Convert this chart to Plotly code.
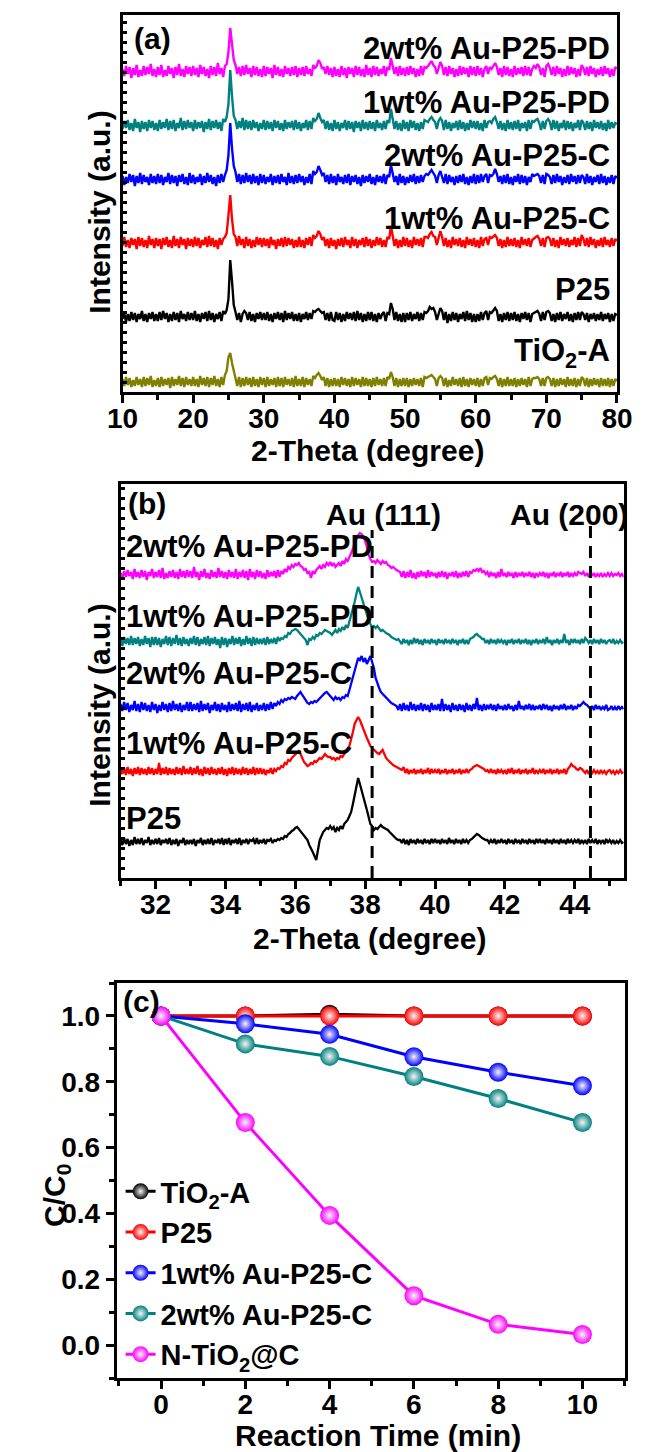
import plotly.graph_objects as go

W, H = 652, 1452
FONT = "Liberation Sans, Arial, sans-serif"

# ---------------- Panel (a) data: 2-Theta 10..80 step 0.25 (intensity, a.u.) ----------------
A_START, A_STEP = 10.0, 0.25
A_PD2 = [3,-4,6,-2,5,-6,4,-3,7,-5, 2,-4,6,-3,5,-2,8,-4,3,-5,
         5,-3,7,-5,2,-4,6,-2,4,-6, 5,-3,8,-4,3,-5,6,-2,5,-4,
         6,-3,4,-5,7,-2,5,-4,3,-6, 6,-3,5,-4,9,-2,4,-5,6,8,
         20,44,28,12,7,-2,5,-4,6,-3, 7,-2,4,-5,6,-3,5,-4,3,-5,
         6,-4,5,-2,4,-6,7,-3,5,-4, 3,-5,6,-2,4,-4,5,-3,6,-5,
         4,-3,5,-4,6,-2,3,-4,7,4, 6,12,9,3,5,-2,6,-3,4,-5,
         5,-4,3,-5,6,-3,4,-6,5,-2, 4,-5,6,-3,5,-4,3,-5,7,-3,
         4,-5,6,-3,5,-4,3,-2,6,-4, 5,2,14,6,-2,5,-4,6,-3,4,
         -4,5,-3,6,-2,4,-5,3,-4,6, -3,5,4,6,8,11,7,5,-2,4,
         10,6,-3,5,-4,6,-2,4,-5,3, -4,6,-3,5,-2,4,-5,6,-3,5,
         -4,6,-3,4,-5,3,6,-2,5,3, 6,9,5,-3,4,-5,6,-3,5,-4,
         3,-5,6,-3,4,-2,5,-4,6,-3, 5,-4,3,6,4,8,5,-3,4,-5,
         6,8,4,-3,5,-4,6,-2,4,-5, 3,-4,6,-3,5,-2,4,-5,3,-4,
         7,4,-3,5,-4,6,-2,4,-5,3, -3,5,-4,6,-2,4,-5,3,-4,5,
         3]
A_PD1 = [-3,5,-2,6,-4,3,-5,7,-2,4, -6,5,-3,4,-5,6,-2,5,-4,3,
         -5,6,-3,4,-2,7,-4,5,-3,6, -5,3,-2,8,-4,5,-3,6,-2,4,
         -5,6,-3,4,-2,5,-6,4,-3,7, -4,5,-2,6,-3,4,-5,7,4,9,
         22,56,30,10,6,-3,5,-2,8,-4, 6,-3,5,-4,6,-2,4,-5,3,-3,
         6,-4,5,-3,4,-5,6,-2,5,-4, 3,-5,6,-3,4,-2,5,-4,6,-3,
         4,-5,3,-2,6,-4,5,-3,8,5, 7,13,8,4,6,-3,5,-4,3,-5,
         6,-3,4,-5,3,-2,6,-4,5,-3, 4,-6,5,-2,4,-5,6,-3,4,-4,
         5,-3,4,-5,6,-2,3,-4,5,-3, 6,3,17,7,-3,5,-4,3,-5,6,
         -3,4,-5,6,-2,5,-4,3,-5,4, -3,6,5,4,7,9,6,4,-3,5,
         8,5,-4,6,-3,4,-5,3,-2,5, -4,6,-3,4,-5,3,-4,6,-2,5,
         -3,5,-4,3,-5,6,-2,4,5,3, 7,9,4,-3,5,-4,3,-5,6,-3,
         4,-4,5,-3,6,-5,3,-2,4,-5, 6,-3,5,4,6,7,3,-4,5,-3,
         5,7,4,-4,6,-3,5,-5,3,-2, 6,-4,5,-3,4,-5,3,-2,6,-4,
         6,3,-4,5,-3,4,-5,6,-2,4, -3,5,-4,3,-5,6,-3,4,-2,3,
         2]
A_C2 = [4,-5,3,-3,6,-2,5,-6,4,-3, 7,-4,5,-2,3,-5,6,-3,4,-4,
        6,-3,5,-5,3,-2,7,-4,5,-3, 4,-6,5,-2,6,-4,3,-5,7,-3,
        5,-4,3,-2,6,-5,4,-3,7,-2, 5,-4,3,-6,5,-3,6,-2,5,10,
        25,57,32,14,8,-2,6,-4,5,-3, 7,-2,5,-4,6,-3,4,-5,6,-3,
        5,-4,3,-2,6,-5,4,-3,5,-4, 6,-2,3,-5,7,-3,4,-4,5,-3,
        6,-2,4,-5,3,-3,6,-4,9,6, 8,14,10,5,7,-2,5,-4,6,-3,
        4,-5,6,-2,3,-4,5,-3,6,-5, 4,-2,5,-4,3,-6,5,-3,4,-2,
        6,-4,3,-5,5,-2,4,-3,6,-4, 5,3,15,7,-2,4,-5,6,-3,4,
        -5,3,-3,5,-2,6,-4,4,-3,5, -2,4,6,5,8,10,7,4,-3,5,
        9,4,-3,6,-4,5,-2,3,-5,4, -3,5,-2,6,-4,3,-5,4,-3,6,
        -4,5,-3,6,-2,4,6,-3,5,4, 6,11,6,-2,4,-4,5,-3,6,-4,
        3,-5,4,-2,6,-4,5,-3,4,-5, 3,-2,6,4,5,6,4,-3,5,-4,
        6,5,3,-4,5,-3,6,-2,4,-5, 3,-3,5,-4,6,-2,4,-4,5,-3,
        5,3,-4,6,-3,4,-5,3,-2,5, -4,6,-3,4,-5,3,-3,5,-4,4,
        2]
A_C1 = [-3,6,-4,3,-5,5,-2,4,-6,6, -3,5,-4,3,-5,7,-2,4,-5,5,
        -3,4,-6,5,-2,6,-4,3,-5,7, -3,4,-5,6,-2,4,-6,5,-3,4,
        -4,6,-3,5,-5,3,-2,6,-4,7, -3,5,-4,3,-6,5,-2,4,6,10,
        28,48,24,9,6,-3,7,-2,4,-5, 6,-3,4,-5,3,-4,6,-2,5,-4,
        5,-3,4,-5,6,-2,3,-6,4,-3, 5,-4,6,-3,5,-2,4,-5,3,-4,
        6,-4,3,-5,5,-2,6,-3,8,5, 7,12,9,3,6,-3,4,-5,5,-3,
        3,-6,4,-3,5,-4,6,-2,3,-5, 6,-3,4,-5,3,-2,5,-4,6,-3,
        4,-5,3,-3,6,-2,5,-4,3,-4, 6,4,17,8,-3,4,-5,3,-4,6,
        -3,5,-4,3,-5,6,-2,4,-3,5, -4,6,6,5,9,11,7,6,-2,5,
        12,6,-3,5,-4,3,-5,6,-2,4, -3,5,-4,3,-5,6,-2,4,-3,5,
        -4,3,-5,6,-3,4,5,-2,6,5, 7,8,5,-3,4,-5,3,-4,6,-3,
        4,-3,5,-4,3,-5,6,-2,4,-3, 5,-4,3,5,6,7,4,-3,5,-4,
        5,6,4,-3,5,-4,3,-5,6,-2, 4,-3,5,-4,3,-2,6,-4,5,-3,
        8,4,-3,5,-4,6,-2,4,-5,3, -3,5,-4,6,-2,3,-4,5,-3,4,
        2]
A_P25 = [-2,4,-5,3,-4,5,-3,4,-5,3, -2,6,-4,3,-5,4,-2,5,-4,3,
         -4,5,-3,6,-2,4,-5,3,-4,5, -3,4,-5,6,-2,3,-4,5,-3,4,
         -3,6,-4,3,-5,4,-2,5,-4,6, -3,4,-5,3,-2,5,-4,6,3,7,
         18,57,36,12,5,-3,4,-5,3,6, 4,-3,5,-4,3,-5,4,-2,5,-3,
         4,-3,5,-4,3,-5,4,-2,5,-3, 4,-5,6,-3,4,-2,5,-4,3,-4,
         4,-5,3,-2,5,-3,4,-2,6,5, 7,8,6,4,5,-3,4,-4,5,-3,
         -4,5,-3,4,-5,3,-4,5,-2,4, -3,5,-4,6,-3,4,-5,3,-4,5,
         -3,5,-4,3,-5,4,-2,3,5,-4, 4,3,14,8,-3,5,-4,3,-5,4,
         -5,4,-3,5,-4,3,-2,5,-4,4, -3,5,4,6,10,8,9,5,-3,4,
         9,6,-3,5,-6,3,-4,5,-3,4, -5,3,-2,5,-4,6,-3,4,-5,3,
         -5,3,-4,5,-3,4,6,-3,5,4, 7,9,6,-4,3,-5,4,-3,5,-4,
         4,-3,5,-4,3,-5,4,-2,5,-3, 4,-5,3,4,5,6,3,-4,5,-3,
         5,6,4,-4,3,-5,4,-3,5,-4, 3,-2,5,-4,3,-5,4,-3,5,-3,
         5,3,-3,4,-5,3,-2,4,-4,3, -3,5,-4,3,-2,4,-5,3,-4,3,
         2]
A_TIO2 = [4,-3,6,-2,5,-4,3,-3,6,-2, 4,-4,6,-3,5,-2,7,-4,3,-3,
          5,-4,6,-3,4,-2,5,-5,6,-3, 4,-2,7,-3,5,-4,6,-2,4,-3,
          6,-3,4,-4,7,-2,5,-3,6,-4, 5,-2,7,-3,4,-4,6,-2,8,12,
          26,30,20,12,7,-3,6,-4,5,-3, 6,-2,5,-4,6,-3,4,-4,6,-2,
          5,-4,6,-3,4,-2,5,-4,6,-3, 5,-4,6,-2,4,-3,5,-4,7,-3,
          4,-3,6,-4,5,-2,4,-3,7,5, 8,10,7,3,6,-3,5,-4,4,-3,
          5,-3,4,-4,6,-2,5,-3,4,-4, 6,-3,5,-2,4,-4,6,-3,5,-3,
          4,-4,5,-3,6,-2,4,-3,5,-3, 6,4,11,6,-3,5,-4,4,-3,5,
          -3,5,-4,4,-3,5,-2,4,-3,5, -4,6,5,6,7,8,6,4,-3,5,
          7,5,-3,5,-4,3,-3,6,-2,4, -3,5,-4,6,-3,4,-4,5,-2,4,
          -3,5,-4,4,-3,5,6,-2,5,4, 6,7,4,-3,5,-4,4,-3,6,-3,
          4,-3,5,-4,4,-3,5,-2,4,-4, 6,-3,4,5,5,6,4,-3,5,-3,
          5,6,4,-3,5,-4,4,-3,5,-2, 4,-4,6,-3,4,-3,5,-4,4,-3,
          6,4,-3,5,-4,4,-3,5,-2,4, -4,5,-3,4,-3,5,-4,4,-3,4,
          2]

# ---------------- Panel (b) data: 2-Theta 31.00..45.40 step 0.05 ----------------
B_START, B_STEP = 31.0, 0.05
B_PD2 = [2,-3,4,-2,5,-1,3,-4,6,-2, 3,-3,5,-2,4,-5,3,-1,6,-3,
         3,-2,5,-3,7,-4,2,-3,4,-2, 5,-3,3,-4,6,-2,4,-3,5,-2,
         4,-3,8,-2,3,-5,4,-2,6,-3, 2,-4,5,-2,3,-3,7,-2,4,-3,
         3,-4,5,-2,3,-3,6,-4,3,-2, 5,-3,4,-5,6,-2,3,-4,5,-2,
         4,-3,2,-4,5,-2,3,-1,4,-3, 5,-2,4,1,6,3,8,6,10,8,
         11,10,12,9,8,5,6,2,3,-3, 4,1,5,7,9,6,10,8,12,10,
         13,9,12,8,10,12,9,14,11,16, 14,18,22,26,32,37,40,42,41,38,
         34,28,20,16,13,14,12,15,13,11, 14,12,13,10,9,7,8,6,5,4,
         3,-2,4,-3,3,-2,5,-3,2,-4, 3,-2,4,-1,3,-3,5,-2,3,-1,
         2,-3,3,-2,4,-2,3,-4,2,-1, 3,-2,4,-3,2,-2,3,-1,4,-2,
         3,2,5,4,6,4,7,3,4,1, 3,-2,3,-1,2,-3,3,-2,6,-1,
         2,-2,3,-1,2,-3,3,-2,2,-1, 3,-2,2,-1,3,-2,2,-3,2,-1,
         2,-1,3,-2,2,-3,2,-1,3,-2, 2,-1,3,-2,2,-1,3,-2,2,-1,
         2,-1,3,2,1,3,-1,2,-2,3, -1,2,-2,1,-1,2,-2,1,-1,2,
         -1,2,-1,1,0,2,-1,1,-2]
B_PD1 = [3,-4,5,-2,4,-3,6,-3,4,-2, 5,-4,3,-3,6,-2,4,-5,5,-3,
         5,-3,4,-5,3,-2,6,-3,5,-4, 4,-2,7,-3,4,-4,5,-2,3,-4,
         4,-2,6,-3,5,-4,3,-2,5,-3, 6,-4,4,-2,5,-3,3,-6,5,-3,
         4,-5,3,-2,6,-3,4,-2,5,-4, 3,-3,6,-2,4,-4,5,-3,4,-2,
         3,-2,4,-3,5,-2,3,-1,4,-2, 5,1,4,3,6,5,9,8,11,12,
         13,12,10,8,6,3,2,-3,3,2, 5,3,7,6,9,8,10,12,11,10,
         9,7,10,12,9,13,11,15,12,17, 14,20,26,32,40,48,55,50,44,40,
         34,28,22,18,15,16,14,16,13,11, 12,10,9,8,7,5,4,3,2,3,
         1,-2,3,-1,2,-3,2,-2,4,-1, 3,-2,2,-3,3,-1,2,-2,3,-1,
         2,-3,3,-1,2,-2,3,-1,2,-2, 3,-1,2,-3,2,-1,3,-2,2,-2,
         3,4,5,7,8,6,5,3,3,-1, 2,-2,3,-1,2,-2,3,-1,2,-1,
         2,-3,2,-1,3,-2,2,-1,3,-2, 2,-1,3,-2,2,-3,2,-1,3,-2,
         2,-1,3,-2,5,-1,2,-3,2,-1, 3,-2,2,-1,8,-1,2,-3,3,-1,
         3,-1,2,-2,3,-1,4,2,-1,2, -2,3,-1,2,-2,3,-1,2,-2,1,
         2,-1,3,-2,1,-1,2,-1,0]
B_C2 = [4,-3,6,-2,5,-4,3,-2,7,-3, 4,-4,6,-2,5,-3,3,-4,6,-2,
        4,-5,3,-3,6,-2,4,-4,5,-3, 7,-2,4,-3,5,-4,3,-2,6,-3,
        6,-3,4,-2,5,-4,7,-3,4,-2, 5,-5,3,-2,6,-3,4,-4,5,-2,
        3,-4,6,-3,4,-2,5,-3,7,-4, 4,-2,5,-3,6,-4,3,-2,5,-3,
        3,-2,5,-3,4,-2,6,-1,5,2, 6,4,8,6,9,8,10,9,11,10,
        9,12,14,16,13,10,7,5,4,6, 5,7,6,8,9,12,13,15,16,14,
        12,10,8,11,9,10,8,11,10,13, 12,18,24,30,38,44,50,48,52,46,
        50,44,48,52,46,40,30,24,20,16, 14,12,10,8,6,5,4,3,2,-2,
        4,-3,5,-2,3,-3,6,-2,4,-3, 3,-2,5,-3,4,-2,3,-4,5,-2,
        3,-2,4,-3,9,-3,4,-2,3,-4, 5,-2,3,-3,4,-2,3,-4,5,-2,
        3,-3,4,-1,10,-2,3,-3,4,-2, 3,-1,4,-2,3,-3,4,-1,2,-2,
        3,-2,4,-1,2,-3,3,-2,7,-1, 2,-2,3,-1,4,-2,3,-2,2,-1,
        3,-2,4,-1,3,-2,2,-3,3,-1, 2,-2,3,-1,4,-2,2,-1,3,-2,
        2,-1,3,2,4,6,4,3,1,-1, 2,-2,3,-1,2,-2,1,-1,3,-2,
        -1,2,-2,1,-2,2,-1,1,-1]
B_C1 = [3,-2,4,-3,5,-2,3,-4,4,-2, 5,-3,4,-2,3,-3,5,-2,4,-3,
        3,-2,9,-3,4,-2,5,-3,4,-2, 3,-3,5,-2,4,-3,6,-2,3,-2,
        5,-3,4,-2,6,-3,3,-4,5,-2, 4,-3,5,-2,3,-3,4,-2,5,-3,
        3,-4,4,-2,5,-3,4,-2,3,-3, 5,-2,4,-3,3,-2,5,-3,4,-2,
        4,-2,3,-3,2,-1,4,-2,3,1, 4,3,6,5,9,8,12,11,14,16,
        18,20,21,18,14,10,8,6,7,9, 8,11,10,12,14,13,15,18,16,15,
        15,13,14,12,14,13,16,15,18,20, 22,26,32,40,48,52,55,52,47,44,
        38,34,30,26,24,22,20,19,18,20, 22,18,14,12,10,8,7,6,5,4,
        3,2,5,-1,3,-2,2,-1,3,-2, 2,-1,3,-2,2,-1,4,-2,3,-1,
        2,-1,3,-2,2,-1,3,-2,2,-1, 3,-2,2,-1,3,-2,2,-1,3,-1,
        2,3,5,6,7,6,5,4,3,1, 2,-1,3,-1,2,-2,3,-1,2,-1,
        2,-2,3,-1,4,-2,2,-1,3,-2, 2,-1,3,-2,2,-1,4,-2,2,-1,
        2,-1,3,-2,2,-1,3,-2,2,-1, 3,-2,2,-1,3,-2,3,5,8,6,
        5,3,2,4,3,1,-1,2,-2,1, -1,2,-1,1,-2,2,-1,1,-2,1,
        2,-1,1,-2,1,-1,2,-1,0]
B_P25 = [2,-3,4,-2,3,-4,2,-3,5,-2, 3,-2,4,-3,2,-1,5,-3,2,-2,
         3,-2,4,-3,2,-1,3,-2,4,-3, 2,-2,3,-4,2,-1,4,-3,2,-2,
         2,-2,3,-4,2,-1,4,-3,2,-2, 3,-2,4,-3,2,-1,3,-2,4,-3,
         3,-2,4,-3,2,-1,3,-2,4,-3, 2,-1,3,-2,2,1,3,-2,4,-2,
         2,-1,3,-2,2,1,3,-1,2,1, 3,2,4,3,6,5,8,9,11,12,
         14,15,13,11,8,6,4,2,-3,-6, -10,-14,-18,-8,2,6,10,12,14,13,
         16,13,15,10,14,12,16,13,18,20, 22,26,30,38,46,56,64,58,52,45,
         40,32,25,18,16,12,14,13,15,17, 15,14,13,12,10,8,6,4,3,2,
         2,-1,3,-2,2,-3,3,-1,2,-2, 3,-1,2,-2,3,-1,2,-2,3,-1,
         3,-1,2,-2,3,-1,2,-2,4,-1, 2,-2,3,-1,2,-2,3,-1,2,-1,
         2,3,5,6,8,7,5,4,3,2, 2,-1,2,-1,3,-2,2,-1,3,-1,
         2,-2,3,-1,2,-2,3,-1,2,-2, 3,-1,2,-2,3,-1,2,-2,3,-1,
         3,-1,2,-2,3,-1,2,-2,3,-1, 2,-2,3,-1,2,-2,3,-1,2,-1,
         2,-1,3,-2,2,-1,2,-2,3,-1, 2,-1,3,-2,2,-1,2,-2,3,-1,
         2,-1,2,-2,1,-1,2,-1,0]
AU_LINES = [38.2, 44.45]

# ---------------- Panel (c) data ----------------
TIME = [0, 2, 4, 6, 8, 10]
C_TIO2A = [1.0, 1.0, 1.005, 1.0, 1.0, 1.0]
C_P25 = [1.0, 1.0, 1.0, 1.0, 1.0, 1.0]
C_AU1 = [1.0, 0.976, 0.944, 0.876, 0.829, 0.788]
C_AU2 = [1.0, 0.915, 0.877, 0.816, 0.749, 0.676]
C_NTIO2 = [1.0, 0.676, 0.394, 0.150, 0.063, 0.032]

# ---------------- styles / layout ----------------
COL = {"PD2": "#FF00FF", "PD1": "#008080", "C2": "#0000FF", "C1": "#FF0000",
       "P25": "#000000", "TIO2": "#808000"}
OFF_A = {"PD2": 320, "PD1": 266, "C2": 212, "C1": 149, "P25": 75, "TIO2": 9}
OFF_B = {"PD2": 303, "PD1": 236, "C2": 170, "C1": 106, "P25": 36}


def px(x):
    return x / W


def py(y):
    return 1 - y / H


fig = go.Figure()

seriesA = [("TIO2", A_TIO2), ("P25", A_P25), ("C1", A_C1), ("C2", A_C2), ("PD1", A_PD1), ("PD2", A_PD2)]
for key, vals in seriesA:
    xs = [A_START + A_STEP * i for i in range(len(vals))]
    ys = [OFF_A[key] + v for v in vals]
    fig.add_trace(go.Scatter(x=xs, y=ys, mode="lines", line=dict(color=COL[key], width=2.4),
                             xaxis="x", yaxis="y", showlegend=False))

seriesB = [("P25", B_P25), ("C1", B_C1), ("C2", B_C2), ("PD1", B_PD1), ("PD2", B_PD2)]
for key, vals in seriesB:
    xs = [B_START + B_STEP * i for i in range(len(vals))]
    ys = [OFF_B[key] + v for v in vals]
    fig.add_trace(go.Scatter(x=xs, y=ys, mode="lines", line=dict(color=COL[key], width=2.3),
                             xaxis="x2", yaxis="y2", showlegend=False))

for xv, ytop in zip(AU_LINES, [348, 356]):
    fig.add_trace(go.Scatter(x=[xv, xv], y=[0, ytop], mode="lines",
                             line=dict(color="black", width=3, dash="12px,8px"),
                             xaxis="x2", yaxis="y2", showlegend=False))

seriesC = [("TiO<sub>2</sub>-A", C_TIO2A, "#000000"),
           ("P25", C_P25, "#FF0000"),
           ("1wt% Au-P25-C", C_AU1, "#0000FF"),
           ("2wt% Au-P25-C", C_AU2, "#008080"),
           ("N-TiO<sub>2</sub>@C", C_NTIO2, "#FF00FF")]
for name, vals, col in seriesC:
    fig.add_trace(go.Scatter(x=TIME, y=vals, mode="lines+markers", name=name,
                             line=dict(color=col, width=3),
                             marker=dict(color=col, size=19, line=dict(width=0),
                                         gradient=dict(type="radial", color="#f4f4f4")),
                             xaxis="x3", yaxis="y3"))

tickfont = dict(family=FONT, size=28, color="black", weight="bold")
axis_common = dict(showline=True, linewidth=3, linecolor="black", mirror=True,
                   showgrid=False, zeroline=False, tickfont=tickfont,
                   tickcolor="black", tickwidth=2.5)
minor_x = dict(ticks="outside", ticklen=5, tickwidth=2.5, tickcolor="black")

fig.update_layout(
    width=W, height=H, margin=dict(l=0, r=0, t=0, b=0),
    paper_bgcolor="white", plot_bgcolor="white",
    font=dict(family=FONT, color="black"),
    xaxis=dict(domain=[px(112), px(632)], anchor="y", range=[10, 80], dtick=10, tick0=10,
               ticks="outside", ticklen=8, ticklabelstandoff=-9, minor=dict(dtick=5, **minor_x),
               **axis_common),
    yaxis=dict(domain=[py(392), py(15)], anchor="x", range=[0, 377], dtick=10,
               ticks="inside", ticklen=4, showticklabels=False, **axis_common),
    xaxis2=dict(domain=[px(110), px(639)], anchor="y2", range=[31, 45.4], dtick=2, tick0=32,
                ticks="outside", ticklen=8, ticklabelstandoff=-9, minor=dict(dtick=1, **minor_x),
                **axis_common),
    yaxis2=dict(domain=[py(878), py(484)], anchor="x2", range=[0, 394], dtick=10,
                ticks="inside", ticklen=4, showticklabels=False, **axis_common),
    xaxis3=dict(domain=[px(106), px(640)], anchor="y3", range=[-1.05, 11], dtick=2, tick0=0,
                ticks="outside", ticklen=8, ticklabelstandoff=-9, minor=dict(dtick=1, **minor_x),
                **axis_common),
    yaxis3=dict(domain=[py(1378), py(983)], anchor="x3", range=[-0.1, 1.1], dtick=0.2, tick0=0,
                tickformat=".1f", ticks="outside", ticklen=8,
                minor=dict(dtick=0.1, ticks="outside", ticklen=5, tickwidth=2.5, tickcolor="black"),
                **axis_common),
    legend=dict(x=px(110), y=py(1166), xanchor="left", yanchor="top",
                bgcolor="rgba(0,0,0,0)", tracegroupgap=0,
                font=dict(family=FONT, size=29, color="black", weight="bold")),
)

ann = []


def text(x, y, s, size=30, xanchor="center", angle=0):
    ann.append(dict(x=px(x), y=py(y), xref="paper", yref="paper", text=s, showarrow=False,
                    xanchor=xanchor, yanchor="middle", textangle=angle,
                    font=dict(family=FONT, size=size, color="black", weight="bold")))


# panel (a)
text(122, 39, "(a)", 30, "left")
labels_a = [(48, "2wt% Au-P25-PD"), (103, "1wt% Au-P25-PD"), (156, "2wt% Au-P25-C"),
            (218, "1wt% Au-P25-C"), (290, "P25"), (353, "TiO<sub>2</sub>-A")]
for yy, s in labels_a:
    text(627, yy, s, 31, "right")
text(370, 451, "2-Theta (degree)", 30)
text(87, 212, "Intensity (a.u.)", 30, angle=-90)

# panel (b)
text(116, 504, "(b)", 30, "left")
labels_b = [(547, "2wt% Au-P25-PD"), (616, "1wt% Au-P25-PD"), (673, "2wt% Au-P25-C"),
            (744, "1wt% Au-P25-C"), (818, "P25")]
for yy, s in labels_b:
    text(114, yy, s, 31, "left")
text(386, 514, "Au (111)", 30)
text(582, 514, "Au (200)", 30)
text(372, 938, "2-Theta (degree)", 30)
text(87, 705, "Intensity (a.u.)", 30, angle=-90)

# panel (c)
text(110, 1001, "(c)", 30, "left")
text(381, 1435, "Reaction Time (min)", 30)
text(42, 1195, "C/C<sub>0</sub>", 30, angle=-90)

fig.update_layout(annotations=ann)
fig.write_html("out.html")
